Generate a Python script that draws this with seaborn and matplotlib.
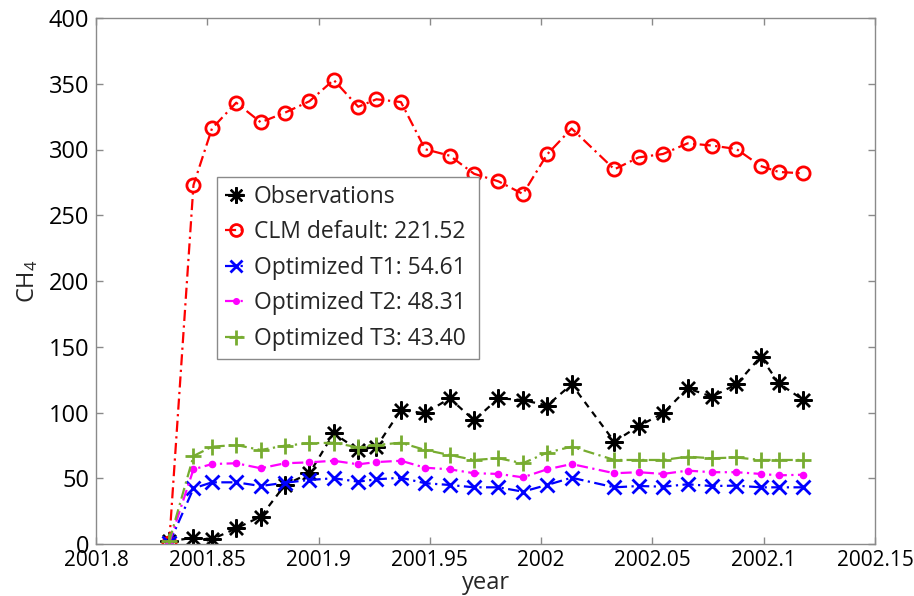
import matplotlib
matplotlib.use("Agg")
import matplotlib.pyplot as plt
import seaborn as sns

# Sampling times (decimal year)
years = [2001.8329, 2001.8438, 2001.8521, 2001.8630, 2001.8740, 2001.8849,
         2001.8959, 2001.9068, 2001.9178, 2001.9260, 2001.9370, 2001.9479,
         2001.9589, 2001.9699, 2001.9808, 2001.9918, 2002.0027, 2002.0137,
         2002.0329, 2002.0438, 2002.0548, 2002.0658, 2002.0767, 2002.0877,
         2002.0986, 2002.1068, 2002.1178]

observations = [2, 4.8, 3.6, 11.9, 20.8, 44.9, 53.8, 84.2, 71.5, 74, 101.9, 99.4,
                110.8, 94, 110.8, 109.5, 105.3, 121.4, 77.8, 89.7, 99.4, 118.4,
                112, 121.4, 142.4, 122.2, 109.5]
clm_default = [1, 273.0, 316, 335.6, 320.7, 328, 336.7, 352.9, 332.5, 338.2, 336.1,
               300.2, 295.3, 281.5, 275.8, 266.2, 296.3, 316, 284.9, 294, 296.6,
               304.7, 303, 300.4, 287.5, 282.9, 281.9]
opt_t1 = [0.5, 42.3, 46.9, 46.9, 44.1, 46.6, 48.7, 50, 47.4, 49.2, 50.4, 46.2, 44.9,
          43.1, 43.1, 39.8, 44.9, 50.4, 43.1, 44.1, 43.6, 45.4, 44.1, 44.4, 43.1,
          43.1, 43.1]
opt_t2 = [1, 56.8, 60.8, 61.4, 57.6, 61.4, 62.1, 63.3, 60.6, 62.3, 63.3, 58, 56.8,
          53.8, 53.3, 50.7, 56.8, 60.8, 53.8, 54.6, 53.3, 55.8, 54.6, 54.6, 53.3,
          52.2, 52.7]
opt_t3 = [2, 66.9, 74, 75.3, 71.5, 74.8, 76.6, 77, 73.5, 75.3, 77, 71.5, 67.7, 63.9,
          65.2, 61.4, 69.5, 74, 63.9, 63.9, 63.9, 66.4, 65.2, 65.8, 63.9, 63.9, 63.9]

labels = ["Observations", "CLM default: 221.52", "Optimized T1: 54.61",
          "Optimized T2: 48.31", "Optimized T3: 43.40"]

x_ticks = [2001.8, 2001.85, 2001.9, 2001.95, 2002, 2002.05, 2002.1, 2002.15]
x_tick_labels = ["2001.8", "2001.85", "2001.9", "2001.95", "2002", "2002.05",
                 "2002.1", "2002.15"]
y_ticks = [0, 50, 100, 150, 200, 250, 300, 350, 400]

sns.set_style("white")
plt.rcParams["font.family"] = ["Open Sans", "DejaVu Sans"]
plt.rcParams["mathtext.fontset"] = "custom"
plt.rcParams["mathtext.rm"] = "Open Sans"
plt.rcParams["mathtext.it"] = "Open Sans"

fig = plt.figure(figsize=(9.14, 5.96), dpi=100)
ax = fig.add_axes([96 / 914, 1 - 544 / 596, (875 - 96) / 914, (544 - 18) / 596])

asterisk = (8, 2, 0)
dashdot = (0, (5, 2, 1, 2))
series = [
    (observations, "black", (0, (3, 2.5)), asterisk, 13, 1.7, "black"),
    (clm_default, "#FF0000", dashdot, "o", 9.5, 2.0, "none"),
    (opt_t1, "#0000FF", dashdot, "x", 9.5, 2.0, "#0000FF"),
    (opt_t2, "#FF00FF", dashdot, ".", 9, 1.0, "#FF00FF"),
    (opt_t3, "#77AC30", dashdot, "+", 12, 2.0, "#77AC30"),
]

for (vals, color, ls, marker, ms, mew, mfc), label in zip(series, labels):
    sns.lineplot(x=years, y=vals, ax=ax, color=color, linestyle=ls, linewidth=1.6,
                 marker=marker, markersize=ms, markeredgewidth=mew,
                 markeredgecolor=color, markerfacecolor=mfc, label=label,
                 sort=False, estimator=None)

ax.set_xlim(2001.8, 2002.15)
ax.set_ylim(0, 400)
ax.set_xticks(x_ticks)
ax.set_xticklabels(x_tick_labels)
ax.set_yticks(y_ticks)

spine_color = "#8a8a8a"
for sp in ax.spines.values():
    sp.set_visible(True)
    sp.set_color(spine_color)
    sp.set_linewidth(1.0)
ax.tick_params(direction="in", length=5, width=1.0, color=spine_color,
               labelcolor="black", top=True, right=True, bottom=True, left=True)
ax.tick_params(axis="x", pad=4, labelsize=15)
ax.tick_params(axis="y", pad=5, labelsize=17)

ax.set_xlabel("year", fontsize=17, labelpad=0)
ax.set_ylabel(r"CH$_{4}$", fontsize=17, labelpad=6)

# Legend frame spans a fixed box; items stay left-aligned inside it
leg = ax.legend(loc="upper left",
                bbox_to_anchor=(217 / 914, 1 - 361 / 596, 262 / 914, 184 / 596),
                bbox_transform=fig.transFigure, mode="expand", borderaxespad=0,
                frameon=True, fancybox=False, edgecolor=spine_color, framealpha=1,
                fontsize=16.5, handlelength=0.95, handletextpad=0.3,
                labelspacing=0.5, borderpad=0.35, markerscale=0.9)
leg.get_frame().set_linewidth(1.0)

fig.savefig("out.png", dpi=100)
